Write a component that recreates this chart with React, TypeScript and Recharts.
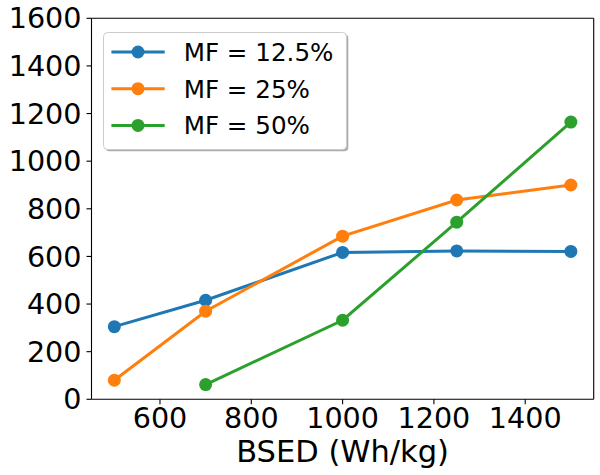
import React from 'react';
import { LineChart, Line, XAxis, YAxis, Legend } from 'recharts';

const bsed = [500, 700, 1000, 1250, 1500];
const mf125 = [305, 416, 617, 623, 621];
const mf25 = [80, 370, 685, 837, 900];
const mf50 = [null, 62, 332, 744, 1164];

const xTicks = [600, 800, 1000, 1200, 1400];
const yTicks = [0, 200, 400, 600, 800, 1000, 1200, 1400, 1600];

const SERIES = [
  { key: 'mf125', name: 'MF = 12.5%', color: '#1f77b4' },
  { key: 'mf25', name: 'MF = 25%', color: '#ff7f0e' },
  { key: 'mf50', name: 'MF = 50%', color: '#2ca02c' },
];

const chartData = bsed.map((x, i) => ({
  x,
  mf125: mf125[i],
  mf25: mf25[i],
  mf50: mf50[i],
}));

const FONT = '"DejaVu Sans", sans-serif';
const TICK_FONT = 28.6;
const LABEL_FONT = 30.5;

const LegendBox: React.FC<any> = () => {
  const w = 243;
  const h = 117;
  return (
    <svg width={w + 4} height={h + 4} style={{ overflow: 'visible', display: 'block' }}>
      <rect x={2.3} y={2.3} width={w} height={h} rx={4} fill="#888" opacity={0.7} />
      <rect x={0.5} y={0.5} width={w} height={h} rx={4} fill="#fff" stroke="#cccccc" />
      {SERIES.map((s, i) => {
        const cy = 20 + i * 36.7;
        return (
          <g key={s.key}>
            <line x1={8.4} x2={61.7} y1={cy} y2={cy} stroke={s.color} strokeWidth={3} />
            <circle cx={35} cy={cy} r={6.5} fill={s.color} />
            <text x={80.7} y={cy + 8.8} fontFamily={FONT} fontSize={24.6} fill="#000">
              {s.name}
            </text>
          </g>
        );
      })}
    </svg>
  );
};

const XLabel: React.FC<any> = ({ viewBox }) => {
  const { x, y, width } = viewBox;
  return (
    <text x={x + width / 2} y={y + 62.8} textAnchor="middle" fontFamily={FONT} fontSize={LABEL_FONT} fill="#000">
      BSED (Wh/kg)
    </text>
  );
};

const App: React.FC = () => {
  const tickStyle = { fill: '#000', fontSize: TICK_FONT, fontFamily: FONT };
  const spine = { stroke: '#000', strokeWidth: 1.1 };
  return (
    <div style={{ position: 'absolute', left: 0, top: 0, width: 600, height: 475, background: '#fff' }}>
      <LineChart width={600} height={475} data={chartData} margin={{ top: 17.3, right: 5.3, left: 0, bottom: 0 }}>
        <XAxis
          dataKey="x"
          type="number"
          domain={[450, 1550]}
          ticks={xTicks}
          height={75.7}
          tick={tickStyle}
          tickSize={5}
          tickMargin={3.5}
          axisLine={spine}
          tickLine={spine}
          label={<XLabel />}
        />
        <XAxis
          xAxisId="top"
          orientation="top"
          dataKey="x"
          type="number"
          domain={[450, 1550]}
          height={1}
          tick={false}
          tickLine={false}
          axisLine={spine}
        />
        <YAxis
          type="number"
          domain={[0, 1600]}
          ticks={yTicks}
          width={91.5}
          tick={tickStyle}
          tickSize={5}
          tickMargin={5}
          interval={0}
          axisLine={spine}
          tickLine={spine}
        />
        <YAxis
          yAxisId="right"
          orientation="right"
          type="number"
          domain={[0, 1600]}
          width={1}
          tick={false}
          tickLine={false}
          axisLine={spine}
        />
        <Legend
          layout="horizontal"
          align="center"
          verticalAlign="middle"
          content={<LegendBox />}
          wrapperStyle={{ left: 103.3, top: 31.7, width: 250, height: 125 }}
        />
        {SERIES.map((s) => (
          <Line
            key={s.key}
            dataKey={s.key}
            name={s.name}
            stroke={s.color}
            strokeWidth={3}
            dot={{ r: 6.5, fill: s.color, stroke: s.color, strokeWidth: 0 }}
            activeDot={false}
            type="linear"
            isAnimationActive={false}
          />
        ))}
      </LineChart>
    </div>
  );
};

export default App;
